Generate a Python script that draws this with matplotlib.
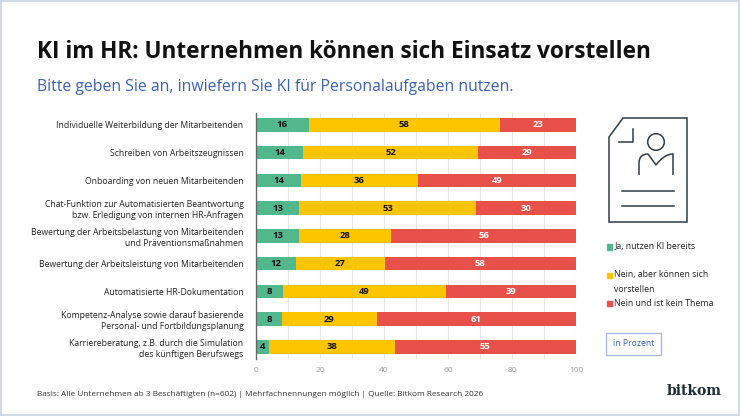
import numpy as np
import matplotlib
matplotlib.use("Agg")
import matplotlib.pyplot as plt
import matplotlib.patches as patches
from matplotlib.path import Path

plt.rcParams['font.family'] = ['Open Sans', 'DejaVu Sans']

# data (values in percent)
categories = [
    "Individuelle Weiterbildung der Mitarbeitenden",
    "Schreiben von Arbeitszeugnissen",
    "Onboarding von neuen Mitarbeitenden",
    "Chat-Funktion zur Automatisierten Beantwortung\nbzw. Erledigung von internen HR-Anfragen",
    "Bewertung der Arbeitsbelastung von Mitarbeitenden\nund Präventionsmaßnahmen",
    "Bewertung der Arbeitsleistung von Mitarbeitenden",
    "Automatisierte HR-Dokumentation",
    "Kompetenz-Analyse sowie darauf basierende\nPersonal- und Fortbildungsplanung",
    "Karriereberatung, z.B. durch die Simulation\ndes künftigen Berufswegs",
]
ja_nutzen = [16, 14, 14, 13, 13, 12, 8, 8, 4]
nein_vorstellbar = [58, 52, 36, 53, 28, 27, 49, 29, 38]
nein_kein_thema = [23, 29, 49, 30, 56, 58, 39, 61, 55]
series_names = ["Ja, nutzen KI bereits", "Nein, aber können sich\nvorstellen", "Nein und ist kein Thema"]
x_ticks = [0, 20, 40, 60, 80, 100]

colors = ["#52b78c", "#fcc500", "#e8504a"]
text_colors = ["#111111", "#111111", "white"]

W, H = 740, 416


def fx(x):
    return x / W


def fy(y):
    return 1 - y / H


fig = plt.figure(figsize=(W / 100, H / 100), dpi=100)

# border around the whole graphic
fig.patches.append(patches.Rectangle((0.001, 0.002), 0.997, 0.995, transform=fig.transFigure,
                                     fill=False, edgecolor="#d3dbea", linewidth=1.5))

fig.text(fx(37), fy(52), "KI im HR: Unternehmen können sich Einsatz vorstellen",
         fontsize=16.3, fontweight="bold", color="#111111", va="center", ha="left")
fig.text(fx(37), fy(87), "Bitte geben Sie an, inwiefern Sie KI für Personalaufgaben nutzen.",
         fontsize=11.3, color="#3b63b5", va="center", ha="left")
fig.text(fx(37), fy(394), "Basis: Alle Unternehmen ab 3 Beschäftigten (n=602) | Mehrfachnennungen möglich | "
         "Quelle: Bitkom Research 2026", fontsize=5.95, color="#333333", va="center", ha="left")

# main chart
ax = fig.add_axes([fx(256), fy(359), fx(576) - fx(256), fy(112.7) - fy(359)])
series = np.array([ja_nutzen, nein_vorstellbar, nein_kein_thema], dtype=float)
shares = series / series.sum(axis=0) * 100
y = np.arange(len(categories))
left = np.zeros(len(categories))
for i in range(3):
    ax.barh(y, shares[i], left=left, height=0.49, color=colors[i], zorder=3)
    for yi, (l, w, v) in enumerate(zip(left, shares[i], series[i])):
        ax.text(l + w / 2, yi, f"{int(v)}", ha="center", va="center", fontsize=6.8,
                fontweight="bold", color=text_colors[i], zorder=4)
    left += shares[i]

ax.set_xlim(0, 100)
ax.set_ylim(len(categories) - 0.56, -0.44)
ax.set_xticks(x_ticks)
ax.set_xticks(np.arange(0, 101, 10), minor=True)
ax.tick_params(axis="x", length=0, which="both", labelsize=6, labelcolor="#9a9a9a", pad=6)
ax.set_yticks(y)
ax.set_yticklabels(categories, fontsize=6.2, color="#222222", linespacing=1.3)
ax.tick_params(axis="y", length=0, pad=9)
ax.grid(axis="x", which="both", color="#e6e6e6", linewidth=0.8, zorder=0)
for s in ["top", "right", "bottom"]:
    ax.spines[s].set_visible(False)
ax.spines["left"].set_color("#666666")
ax.spines["left"].set_linewidth(1)
ax.spines["left"].set_zorder(5)

# decoration layer in pixel coordinates
deco = fig.add_axes([0, 0, 1, 1])
deco.set_xlim(0, W)
deco.set_ylim(H, 0)
deco.axis("off")
deco.patch.set_alpha(0)

# legend
legend_y = [247, 275.7, 303.3]
for c, name, ly in zip(colors, series_names, legend_y):
    deco.add_patch(patches.Rectangle((606.5, ly - 2.6), 5.2, 5.2, color=c))
    if "\n" in name:
        deco.text(614.5, ly - 5.2, name, fontsize=6.3, color="#222222", va="top", ha="left",
                  linespacing=1.75)
    else:
        deco.text(614.5, ly, name, fontsize=6.3, color="#222222", va="center", ha="left")

# "in Prozent" box
deco.add_patch(patches.Rectangle((606, 333), 55, 22, fill=False, edgecolor="#a7badf", linewidth=1))
deco.text(633.5, 344, "in Prozent", fontsize=6.2, color="#3b63b5", ha="center", va="center")

# document icon
ic = "#2b3d47"
doc = [(623, 118), (687, 118), (687, 222), (609, 222), (609, 137), (623, 118)]
deco.add_patch(patches.Polygon(doc, closed=True, fill=False, edgecolor=ic, linewidth=1.1))
deco.plot([619, 633, 633], [142, 142, 129], color=ic, linewidth=1.1)
deco.add_patch(patches.Circle((656, 142), 8.3, fill=False, edgecolor=ic, linewidth=1.1))
verts = [(639, 175), (639, 163), (639, 154), (648, 154), (656, 165),
         (664, 154), (673, 154), (673, 163), (673, 175)]
codes = [Path.MOVETO, Path.LINETO, Path.CURVE3, Path.CURVE3, Path.LINETO,
         Path.CURVE3, Path.CURVE3, Path.LINETO, Path.LINETO]
deco.add_patch(patches.PathPatch(Path(verts, codes), fill=False, edgecolor=ic, linewidth=1.1))
deco.plot([622, 674], [191, 191], color=ic, linewidth=1.1)
deco.plot([622, 674], [206, 206], color=ic, linewidth=1.1)

# logo
deco.text(694.5, 391, "bitkom", fontsize=10, fontweight="bold", color="#1c2a31",
          family="DejaVu Serif", ha="center", va="center")

fig.savefig("out.png", dpi=100)
